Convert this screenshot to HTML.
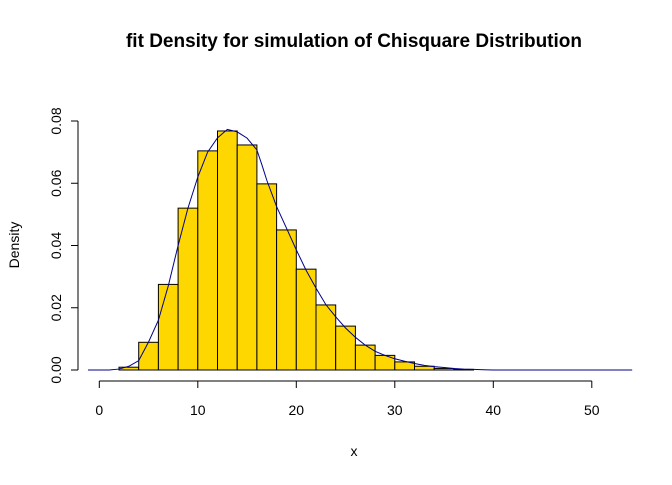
<!DOCTYPE html>
<html><head><meta charset="utf-8"><style>
body{margin:0;background:#fff}
text{font-family:"Liberation Sans",Arial,sans-serif}
</style></head><body>
<svg id="c" width="672" height="480" xmlns="http://www.w3.org/2000/svg">
<text x="354" y="47" text-anchor="middle" font-size="19" font-weight="bold">fit Density for simulation of Chisquare Distribution</text>
<text x="354" y="456" text-anchor="middle" font-size="14">x</text>
<text transform="translate(19,245) rotate(-90)" text-anchor="middle" font-size="14">Density</text>
<g id="bars"></g><g id="axes"></g>
</svg>
<script>
const binStarts=[2,4,6,8,10,12,14,16,18,20,22,24,26,28,30,32,34,36];
const binDensity=[0.0009,0.0089,0.0275,0.052,0.0704,0.0768,0.0723,0.0598,0.045,0.0324,0.0209,0.0141,0.008,0.0047,0.0026,0.0012,0.0005,0.0002];
const binWidth=2;
const curveX=[-1.15,0,1,2,3,4,5,6,7,8,9,10,11,12,13,14,15,16,16.5,17,18,19,20,21,22,23,24,25,26,27,28,29,30,31,32,33,34,35,36,37,38,39,40,54.1];
const curveY=[0,0,0,0.0003,0.0012,0.003,0.009,0.016,0.027,0.040,0.052,0.062,0.070,0.0746,0.0773,0.0765,0.0745,0.0707,0.066,0.061,0.0525,0.0456,0.0386,0.032,0.0263,0.021,0.0171,0.0135,0.0105,0.008,0.006,0.0047,0.0036,0.0028,0.0021,0.0015,0.0011,0.0008,0.0005,0.0003,0.0002,0.0001,0,0];
const xTicks=[0,10,20,30,40,50];
const yTicks=[0,0.02,0.04,0.06,0.08];
const yTickLabels=["0.00","0.02","0.04","0.06","0.08"];
const sx=v=>99.3+v*9.85;
const sy=v=>370-v*3112.5;
const NS="http://www.w3.org/2000/svg";
const bars=document.getElementById('bars'),axes=document.getElementById('axes');
function mk(tag,at,parent){const e=document.createElementNS(NS,tag);for(const k in at)e.setAttribute(k,at[k]);parent.appendChild(e);return e;}
binStarts.forEach((b,i)=>{
 const r=mk('rect',{x:sx(b),y:sy(binDensity[i]),width:sx(b+binWidth)-sx(b),height:sy(0)-sy(binDensity[i]),fill:'#FFD700',stroke:'#000','stroke-width':1},bars);
 
 
});
const pl=mk('polyline',{points:curveX.map((x,i)=>sx(x)+','+sy(curveY[i])).join(' '),fill:'none',stroke:'#00008B','stroke-width':1},bars);


const xa=mk('line',{x1:sx(xTicks[0]),x2:sx(xTicks[xTicks.length-1]),y1:381,y2:381,stroke:'#000'},axes);


xTicks.forEach(t=>{
 mk('line',{x1:sx(t),x2:sx(t),y1:381,y2:388,stroke:'#000'},axes);
 const tx=mk('text',{x:sx(t),y:415,'text-anchor':'middle','font-size':14},axes);tx.textContent=t;
 
 
});
const ya=mk('line',{x1:78,x2:78,y1:sy(yTicks[0]),y2:sy(yTicks[yTicks.length-1]),stroke:'#000'},axes);


yTicks.forEach((t,i)=>{
 mk('line',{x1:71,x2:78,y1:sy(t),y2:sy(t),stroke:'#000'},axes);
 const tx=mk('text',{transform:`translate(61,${sy(t)}) rotate(-90)`,'text-anchor':'middle','font-size':14},axes);tx.textContent=yTickLabels[i];
 
 
});
</script>
</body></html>
